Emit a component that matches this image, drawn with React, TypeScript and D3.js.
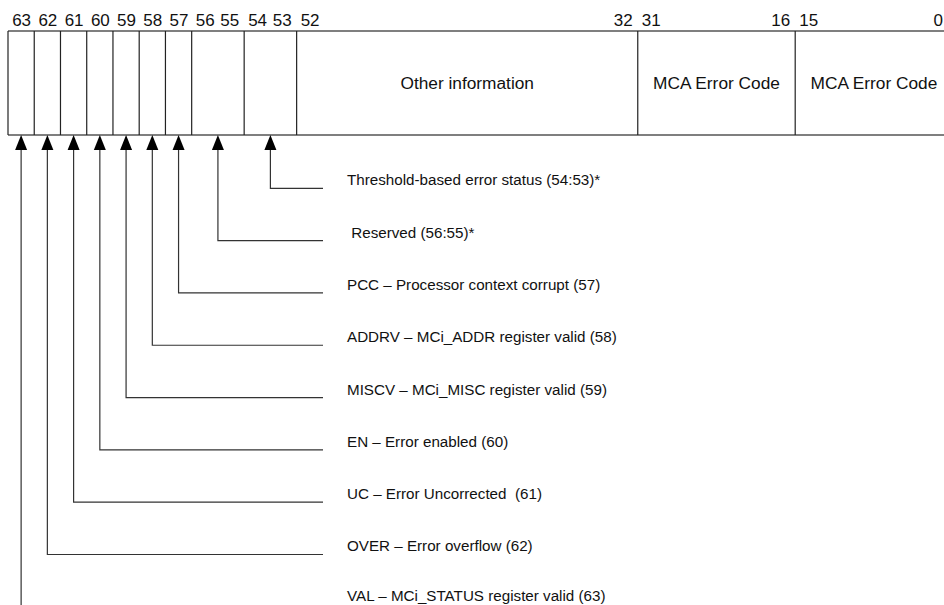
import React from "react";
import * as d3 from "d3";

// Register fields (high bit, low bit, text, width units)
const fieldHi = [63, 62, 61, 60, 59, 58, 57, 56, 54, 52, 31, 15];
const fieldLo = [63, 62, 61, 60, 59, 58, 57, 55, 53, 32, 16, 0];
const fieldText = ["", "", "", "", "", "", "", "", "", "Other information", "MCA Error Code", "MCA Error Code"];
const fieldUnits = [1, 1, 1, 1, 1, 1, 1, 2, 2, 13, 6, 6];

// Annotations: label text and the field index it points to (top to bottom)
const noteText = [
  "Threshold-based error status (54:53)*",
  " Reserved (56:55)*",
  "PCC \u2013 Processor context corrupt (57)",
  "ADDRV \u2013 MCi_ADDR register valid (58)",
  "MISCV \u2013 MCi_MISC register valid (59)",
  "EN \u2013 Error enabled (60)",
  "UC \u2013 Error Uncorrected  (61)",
  "OVER \u2013 Error overflow (62)",
  "VAL \u2013 MCi_STATUS register valid (63)",
];
const noteField = [8, 7, 6, 5, 4, 3, 2, 1, 0];

export default function App() {
  const W = 944, H = 605;
  const totalUnits = d3.sum(fieldUnits);
  const x = d3.scaleLinear().domain([0, totalUnits]).range([8, 8 + totalUnits * 26.24]);
  const starts = d3.cumsum([0, ...fieldUnits]);
  const boxTop = 31, boxBottom = 135;
  const rowY = d3.scaleLinear().domain([0, 8]).range([188.3, 606.8]);
  const lineEnd = 323;
  const textX = 347;
  const font = "Arial, 'Liberation Sans', sans-serif";

  const fields = fieldHi.map((hi, i) => ({
    hi, lo: fieldLo[i], text: fieldText[i],
    x0: x(starts[i]), x1: x(starts[i + 1]),
  }));

  return (
    <svg width={W} height={H} style={{ position: "absolute", left: 0, top: 0, background: "#fff" }}>
      <rect x={0} y={0} width={W} height={H} fill="#fff" />
      {/* box top & bottom */}
      <line x1={x(0)} x2={x(totalUnits)} y1={boxTop} y2={boxTop} stroke="#555" strokeWidth={1.5} />
      <line x1={x(0)} x2={x(totalUnits)} y1={boxBottom} y2={boxBottom} stroke="#555" strokeWidth={1.5} />
      {fields.map((f, i) => (
        <g key={i}>
          <line x1={f.x0} x2={f.x0} y1={boxTop} y2={boxBottom} stroke="#222" strokeWidth={1.2} />
          {f.hi === f.lo ? (
            <text x={(f.x0 + f.x1) / 2 + 0.5} y={26} textAnchor="middle" fontFamily={font} fontSize={17} fill="#111">{f.hi}</text>
          ) : (
            <>
              <text x={f.x0 + 4} y={26} textAnchor="start" fontFamily={font} fontSize={17} fill="#111">{f.hi}</text>
              <text x={Math.min(f.x1 - 5, W - 1)} y={26} textAnchor="end" fontFamily={font} fontSize={17} fill="#111">{f.lo}</text>
            </>
          )}
          {f.text && (
            <text x={(f.x0 + f.x1) / 2} y={(boxTop + boxBottom) / 2 + 6} textAnchor="middle" fontFamily={font} fontSize={17.3} fill="#111">{f.text}</text>
          )}
        </g>
      ))}
      {noteText.map((t, r) => {
        const f = fields[noteField[r]];
        const ax = (f.x0 + f.x1) / 2;
        const y = rowY(r);
        return (
          <g key={r}>
            <path d={`M${ax},${boxBottom} L${ax - 6},${boxBottom + 15} L${ax + 6},${boxBottom + 15} Z`} fill="#000" />
            <path d={`M${ax},${boxBottom + 15} V${y} H${lineEnd}`} fill="none" stroke="#333" strokeWidth={1.2} />
            <text x={textX} y={Math.min(y - 3, 600.5)} fontFamily={font} fontSize={15.2} fill="#111" style={{ whiteSpace: "pre" }}>{t}</text>
          </g>
        );
      })}
    </svg>
  );
}
